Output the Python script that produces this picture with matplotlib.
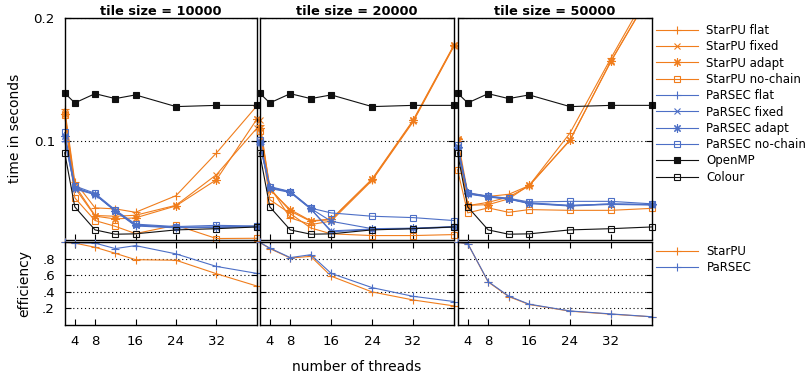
import matplotlib
matplotlib.use("Agg")
import matplotlib.pyplot as plt
from matplotlib.lines import Line2D

# --- Data ---
threads = [2, 4, 8, 12, 16, 24, 32, 40]
tile_sizes = [10000, 20000, 50000]

openmp = [0.139, 0.131, 0.1385, 0.1345, 0.1375, 0.128, 0.129, 0.129]
colour = [0.0905, 0.0465, 0.0278, 0.0243, 0.0246, 0.0278, 0.0288, 0.0302]

# tile size = 10000
starpu_flat_10 = [0.126, 0.067, 0.0457, 0.0449, 0.0421, 0.0556, 0.0903, 0.1286]
starpu_fixed_10 = [0.124, 0.064, 0.0395, 0.0389, 0.0397, 0.0478, 0.0727, 0.1105]
starpu_adapt_10 = [0.122, 0.062, 0.039, 0.0367, 0.0376, 0.0473, 0.0686, 0.1178]
starpu_nochain_10 = [0.121, 0.0538, 0.0354, 0.0307, 0.0248, 0.0316, 0.0208, 0.021]
parsec_flat_10 = [0.100, 0.0625, 0.0565, 0.043, 0.031, 0.0295, 0.0298, 0.0305]
parsec_fixed_10 = [0.102, 0.061, 0.0565, 0.0435, 0.0315, 0.0298, 0.030, 0.0307]
parsec_adapt_10 = [0.104, 0.062, 0.0568, 0.0432, 0.0318, 0.030, 0.0302, 0.0307]
parsec_nochain_10 = [0.107, 0.0635, 0.0575, 0.044, 0.0325, 0.0305, 0.0315, 0.031]

# tile size = 20000
starpu_flat_20 = [0.113, 0.0627, 0.0376, 0.0321, 0.035, 0.068, 0.1155, 0.177]
starpu_fixed_20 = [0.117, 0.0615, 0.043, 0.0348, 0.0362, 0.0686, 0.1162, 0.1775]
starpu_adapt_20 = [0.1105, 0.0605, 0.0443, 0.0352, 0.0365, 0.0692, 0.1168, 0.178]
starpu_nochain_20 = [0.108, 0.0524, 0.041, 0.0294, 0.0246, 0.0232, 0.0232, 0.024]
parsec_flat_20 = [0.0975, 0.0625, 0.0585, 0.045, 0.0262, 0.0282, 0.0288, 0.030]
parsec_fixed_20 = [0.0985, 0.0615, 0.0582, 0.0448, 0.027, 0.0285, 0.029, 0.0302]
parsec_adapt_20 = [0.0995, 0.062, 0.0588, 0.0452, 0.0348, 0.0288, 0.0292, 0.0305]
parsec_nochain_20 = [0.101, 0.063, 0.059, 0.0455, 0.0416, 0.0389, 0.0378, 0.0354]

# tile size = 50000
starpu_flat_50 = [0.1024, 0.0578, 0.055, 0.0567, 0.0638, 0.1065, 0.1673, 0.226]
starpu_fixed_50 = [0.101, 0.0475, 0.0502, 0.0545, 0.0635, 0.101, 0.1646, 0.222]
starpu_adapt_50 = [0.1015, 0.0478, 0.0483, 0.053, 0.064, 0.1005, 0.165, 0.221]
starpu_nochain_50 = [0.0767, 0.0416, 0.0457, 0.0421, 0.0443, 0.0437, 0.0437, 0.0453]
parsec_flat_50 = [0.094, 0.0573, 0.0548, 0.053, 0.0495, 0.0475, 0.049, 0.0483]
parsec_fixed_50 = [0.095, 0.057, 0.0545, 0.0528, 0.0492, 0.0472, 0.0485, 0.048]
parsec_adapt_50 = [0.0955, 0.0575, 0.055, 0.053, 0.0498, 0.0478, 0.0488, 0.0485]
parsec_nochain_50 = [0.0965, 0.058, 0.0553, 0.0535, 0.0505, 0.051, 0.051, 0.049]

# efficiency
eff_starpu_10 = [1.0, 0.99, 0.94, 0.867, 0.79, 0.783, 0.62, 0.471]
eff_parsec_10 = [1.0, 0.995, 0.99, 0.924, 0.96, 0.86, 0.708, 0.624]
eff_starpu_20 = [1.0, 0.924, 0.81, 0.83, 0.59, 0.40, 0.303, 0.231]
eff_parsec_20 = [1.0, 0.93, 0.815, 0.85, 0.624, 0.452, 0.347, 0.284]
eff_starpu_50 = [1.0, 0.985, 0.52, 0.344, 0.248, 0.167, 0.131, 0.099]
eff_parsec_50 = [1.0, 0.985, 0.525, 0.35, 0.252, 0.17, 0.134, 0.1]

time_series = [
    [starpu_flat_10, starpu_fixed_10, starpu_adapt_10, starpu_nochain_10,
     parsec_flat_10, parsec_fixed_10, parsec_adapt_10, parsec_nochain_10, openmp, colour],
    [starpu_flat_20, starpu_fixed_20, starpu_adapt_20, starpu_nochain_20,
     parsec_flat_20, parsec_fixed_20, parsec_adapt_20, parsec_nochain_20, openmp, colour],
    [starpu_flat_50, starpu_fixed_50, starpu_adapt_50, starpu_nochain_50,
     parsec_flat_50, parsec_fixed_50, parsec_adapt_50, parsec_nochain_50, openmp, colour],
]
eff_series = [
    [eff_starpu_10, eff_parsec_10],
    [eff_starpu_20, eff_parsec_20],
    [eff_starpu_50, eff_parsec_50],
]

time_labels = ["StarPU flat", "StarPU fixed", "StarPU adapt", "StarPU no-chain",
               "PaRSEC flat", "PaRSEC fixed", "PaRSEC adapt", "PaRSEC no-chain",
               "OpenMP", "Colour"]
eff_labels = ["StarPU", "PaRSEC"]

# --- Style ---
ORANGE = "#f07d1c"
BLUE = "#4d6fc6"
ASTER = (8, 2, 0)
time_styles = [
    dict(color=ORANGE, marker="+", ms=6, mfc="none"),
    dict(color=ORANGE, marker="x", ms=4.5, mfc="none"),
    dict(color=ORANGE, marker=ASTER, ms=6, mfc="none"),
    dict(color=ORANGE, marker="s", ms=4.5, mfc="none"),
    dict(color=BLUE, marker="+", ms=6, mfc="none"),
    dict(color=BLUE, marker="x", ms=4.5, mfc="none"),
    dict(color=BLUE, marker=ASTER, ms=6, mfc="none"),
    dict(color=BLUE, marker="s", ms=4.5, mfc="none"),
    dict(color="#111111", marker="s", ms=5, mfc="#111111"),
    dict(color="#111111", marker="s", ms=4.5, mfc="none"),
]
eff_styles = [
    dict(color=ORANGE, marker="+", ms=6),
    dict(color=BLUE, marker="+", ms=6),
]

W, H = 807, 378
LEFTS = [64.7, 259.6, 457.5]
WIDTHS = [192.2, 194.3, 194.3]
TOP_Y = (18, 239.5)
EFF_Y = (242.3, 325)
TIME_LIM = (0.02, 0.2)
XTICKS = [4, 8, 16, 24, 32]

plt.rcParams["font.family"] = "DejaVu Sans"


def px_rect(left, width, top, bottom):
    return [left / W, (H - bottom) / H, width / W, (bottom - top) / H]


def style_axes(ax):
    for s in ax.spines.values():
        s.set_linewidth(1.0)
    ax.set_xlim(2, 40)
    ax.set_xticks(XTICKS)
    ax.tick_params(direction="in", length=4, width=0.8, top=True, right=True,
                   labelsize=9.6, pad=7)


def plot_time(ax, series, title, first):
    for vals, st in zip(series, time_styles):
        inside = max(vals) <= TIME_LIM[1]
        ax.plot(threads, vals, lw=0.8, mew=0.8, clip_on=not inside, **st)
    style_axes(ax)
    ax.set_ylim(*TIME_LIM)
    ax.set_yticks([0.1, 0.2])
    ax.set_yticklabels(["0.1", "0.2"])
    ax.tick_params(axis="x", labelbottom=False, top=False)
    ax.yaxis.grid(True, color="black", lw=0.8, linestyle=(0, (1, 2.5)))
    if not first:
        ax.tick_params(axis="y", labelleft=False)
    ax.set_title(title, fontsize=9.3, fontweight="bold", pad=2)


def plot_eff(ax, series, first):
    for vals, st in zip(series, eff_styles):
        ax.plot(threads, vals, lw=0.8, mew=0.8, clip_on=False, **st)
    style_axes(ax)
    ax.set_ylim(0, 1)
    ax.set_yticks([0.2, 0.4, 0.6, 0.8])
    ax.set_yticklabels([".2", ".4", ".6", ".8"])
    ax.yaxis.grid(True, color="black", lw=0.8, linestyle=(0, (1, 2.5)))
    if not first:
        ax.tick_params(axis="y", labelleft=False)


def main():
    fig = plt.figure(figsize=(W / 100, H / 100), dpi=100)
    time_axes, eff_axes = [], []
    for i, ts in enumerate(tile_sizes):
        ax_t = fig.add_axes(px_rect(LEFTS[i], WIDTHS[i], *TOP_Y))
        ax_e = fig.add_axes(px_rect(LEFTS[i], WIDTHS[i], *EFF_Y))
        plot_time(ax_t, time_series[i], f"tile size = {ts}", i == 0)
        plot_eff(ax_e, eff_series[i], i == 0)
        time_axes.append(ax_t)
        eff_axes.append(ax_e)

    time_axes[0].set_ylabel("time in seconds", fontsize=10, labelpad=8)
    eff_axes[0].set_ylabel("efficiency", fontsize=10, labelpad=8)
    fig.text(357 / W, 1 - 366.7 / H, "number of threads", fontsize=10,
             ha="center", va="center")

    # legends
    h_time = [Line2D([], [], lw=0.8, mew=0.8, **st) for st in time_styles]
    h_eff = [Line2D([], [], lw=0.8, mew=0.8, **st) for st in eff_styles]
    leg_kw = dict(loc="upper left", frameon=False, fontsize=8.5, borderpad=0,
                  borderaxespad=0, handlelength=3.55, handletextpad=0.72,
                  labelspacing=0.28)
    fig.legend(h_time, time_labels, bbox_to_anchor=(656 / W, 1 - 24 / H), **leg_kw)
    fig.legend(h_eff, eff_labels, bbox_to_anchor=(656 / W, 1 - 244.8 / H), **leg_kw)

    fig.savefig("out.png", dpi=100)
    plt.close(fig)


if __name__ == "__main__":
    main()
